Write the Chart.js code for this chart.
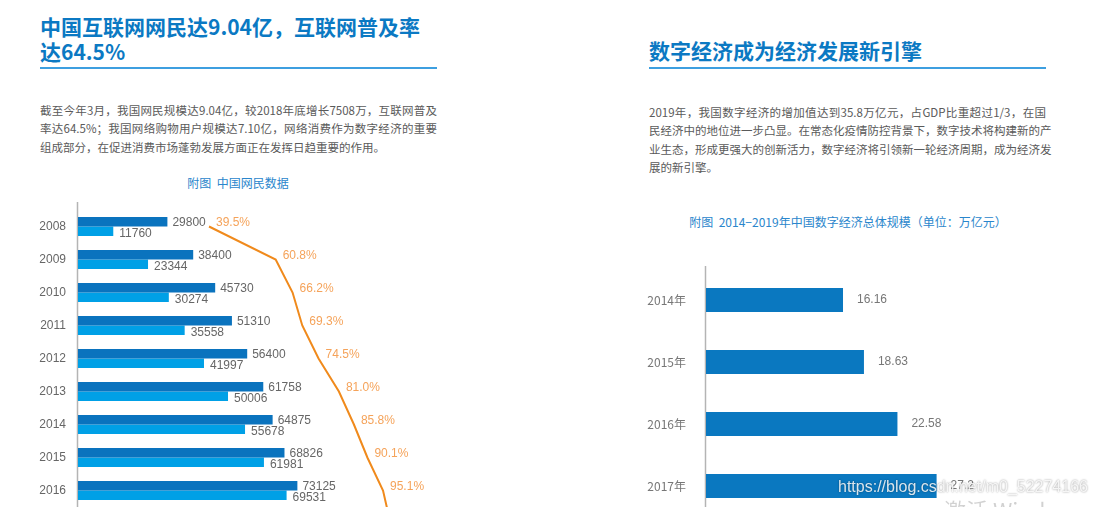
<!DOCTYPE html>
<html lang="zh-CN">
<head>
<meta charset="UTF-8">
<title>中国网民数据 / 数字经济总体规模</title>
<script src="https://cdn.jsdelivr.net/npm/chart.js@4"></script>
<style>
    html, body { margin: 0; padding: 0; }
    body {
        width: 1096px;
        height: 507px;
        overflow: hidden;
        position: relative;
        background: #fff;
        font-family: "Noto Sans CJK SC", sans-serif;
    }
    .title {
        position: absolute;
        color: #0b79c3;
        font-weight: bold;
        font-size: 21px;
        line-height: 25px;
        white-space: nowrap;
    }
    .rule { position: absolute; height: 2px; background: #3d9fe0; width: 397px; top: 67px; }
    .para {
        position: absolute;
        width: 397px;
        font-size: 11.5px;
        line-height: 18.4px;
        color: #5a5a5a;
    }
    .para div { text-align: justify; text-align-last: justify; white-space: nowrap; }
    .para div.last { text-align-last: left; }
    .cap {
        position: absolute;
        color: #2a86cc;
        font-size: 12px;
        line-height: 18px;
        white-space: nowrap;
        transform: translateX(-50%);
    }
    .box { position: absolute; }
    .mark {
        position: absolute;
        white-space: nowrap;
        font-family: "Liberation Sans", Arial, sans-serif;
    }
</style>
</head>
<body>
    <div class="title" style="left:40px; top:14px;">中国互联网网民达9.04亿，互联网普及率<br>达64.5%</div>
    <div class="rule" style="left:40px;"></div>
    <div class="para" style="left:40px; top:101px;">
        <div>截至今年3月，我国网民规模达9.04亿，较2018年底增长7508万，互联网普及</div>
        <div>率达64.5%；我国网络购物用户规模达7.10亿，网络消费作为数字经济的重要</div>
        <div class="last">组成部分，在促进消费市场蓬勃发展方面正在发挥日趋重要的作用。</div>
    </div>
    <div class="cap" style="left:238px; top:174px;">附图&nbsp;&nbsp;中国网民数据</div>

    <div class="title" style="left:649px; top:38px;">数字经济成为经济发展新引擎</div>
    <div class="rule" style="left:649px;"></div>
    <div class="para" style="left:649px; top:103px;">
        <div>2019年，我国数字经济的增加值达到35.8万亿元，占GDP比重超过1/3，在国</div>
        <div>民经济中的地位进一步凸显。在常态化疫情防控背景下，数字技术将构建新的产</div>
        <div>业生态，形成更强大的创新活力，数字经济将引领新一轮经济周期，成为经济发</div>
        <div class="last">展的新引擎。</div>
    </div>
    <div class="cap" style="left:848px; top:213px;">附图&nbsp;&nbsp;2014−2019年中国数字经济总体规模（单位：万亿元）</div>

    <div class="box" style="left:0; top:202px;"><canvas id="netChart" width="450" height="338"></canvas></div>
    <div class="box" style="left:620px; top:266px;"><canvas id="econChart" width="476" height="251"></canvas></div>

    <div class="mark" style="left:838px; top:478px; font-size:16px; color:rgba(255,255,255,0.85); text-shadow:0 0 2px rgba(0,0,0,0.45);">https://blog.csdn.net/m0_52274166</div>
    <div class="mark" style="left:944px; top:493px; font-size:22px; color:rgba(0,0,0,0.18); font-family:'Noto Sans CJK SC',sans-serif;">激活 Windows</div>

<script>
    // 中国网民数据 (2017 row sits below the visible area)
    const years = ['2008', '2009', '2010', '2011', '2012', '2013', '2014', '2015', '2016', '2017'];
    const netizens = [29800, 38400, 45730, 51310, 56400, 61758, 64875, 68826, 73125, null];
    const shoppers = [11760, 23344, 30274, 35558, 41997, 50006, 55678, 61981, 69531, null];
    const shareRate = [39.5, 60.8, 66.2, 69.3, 74.5, 81.0, 85.8, 90.1, 95.1, 97.5];

    // 数字经济总体规模 (万亿元)
    const econYears = ['2014年', '2015年', '2016年', '2017年'];
    const econScale = [16.16, 18.63, 22.58, 27.2];

    const numFont = '12px "Liberation Sans", Arial, sans-serif';

    // draws the value next to each bar / point
    const valueLabels = {
        id: 'valueLabels',
        afterDatasetsDraw(chart) {
            const ctx = chart.ctx;
            chart.data.datasets.forEach((ds, i) => {
                if (!ds.tag) return;
                const meta = chart.getDatasetMeta(i);
                meta.data.forEach((el, j) => {
                    const v = ds.data[j];
                    if (v == null) return;
                    ctx.save();
                    ctx.font = numFont;
                    ctx.fillStyle = ds.tag.color;
                    ctx.textAlign = 'left';
                    ctx.textBaseline = 'middle';
                    ctx.fillText(ds.tag.fmt(v), el.x + ds.tag.dx, el.y + ds.tag.dy);
                    ctx.restore();
                });
            });
        }
    };

    // vertical axis line, a bit taller than the plot area
    const axisLine = {
        id: 'axisLine',
        beforeDatasetsDraw(chart) {
            const ctx = chart.ctx;
            const x = Math.round(chart.chartArea.left) - 0.5;
            ctx.save();
            ctx.strokeStyle = '#b4b4b4';
            ctx.lineWidth = 1.5;
            ctx.beginPath();
            ctx.moveTo(x, 0);
            ctx.lineTo(x, chart.height);
            ctx.stroke();
            ctx.restore();
        }
    };

    // fixed axis width, and no extra label padding above/below the plot
    function fixAxis(width) {
        return function (scale) {
            scale.width = width;
            scale.paddingTop = 0;
            scale.paddingBottom = 0;
        };
    }

    const tickFont = { size: 12, family: '"Liberation Sans", Arial, "Noto Sans CJK SC", sans-serif' };

    new Chart(document.getElementById('netChart'), {
        type: 'bar',
        data: {
            labels: years,
            datasets: [
                {
                    label: '网民规模',
                    data: netizens,
                    backgroundColor: '#0a73be',
                    xAxisID: 'x',
                    barPercentage: 1,
                    categoryPercentage: 0.58,
                    tag: { color: '#666', dx: 5, dy: 1, fmt: v => String(v) }
                },
                {
                    label: '网购用户',
                    data: shoppers,
                    backgroundColor: '#00a0e6',
                    xAxisID: 'x',
                    barPercentage: 1,
                    categoryPercentage: 0.58,
                    tag: { color: '#666', dx: 6, dy: 2, fmt: v => String(v) }
                },
                {
                    type: 'line',
                    label: '比例',
                    data: shareRate,
                    indexAxis: 'y',
                    xAxisID: 'x2',
                    borderColor: '#f08a1c',
                    borderWidth: 2,
                    pointRadius: 0,
                    fill: false,
                    tension: 0,
                    tag: { color: '#f5a35a', dx: 7, dy: -3.5, fmt: v => v.toFixed(1) + '%' }
                }
            ]
        },
        options: {
            indexAxis: 'y',
            responsive: false,
            animation: false,
            layout: { padding: { top: 8, right: 0, bottom: 0, left: 0 } },
            plugins: { legend: { display: false }, tooltip: { enabled: false } },
            scales: {
                x: { display: false, min: 0, max: 124000 },
                x2: { display: false, min: -2.36, max: 116.5, position: 'top' },
                y: {
                    grid: { display: false, drawTicks: false },
                    border: { display: false },
                    ticks: { padding: 12, color: '#666', font: tickFont },
                    afterFit: fixAxis(78)
                }
            }
        },
        plugins: [axisLine, valueLabels]
    });

    new Chart(document.getElementById('econChart'), {
        type: 'bar',
        data: {
            labels: econYears,
            datasets: [{
                label: '数字经济总体规模',
                data: econScale,
                backgroundColor: '#0a78c0',
                barPercentage: 1,
                categoryPercentage: 0.387,
                tag: { color: '#777', dx: 14, dy: 0, fmt: v => String(v) }
            }]
        },
        options: {
            indexAxis: 'y',
            responsive: false,
            animation: false,
            layout: { padding: { top: 3, right: 0, bottom: 0, left: 0 } },
            plugins: { legend: { display: false }, tooltip: { enabled: false } },
            scales: {
                x: { display: false, min: 0, max: 46 },
                y: {
                    grid: { display: false, drawTicks: false },
                    border: { display: false },
                    ticks: { padding: 20, color: '#777', font: { size: 12, family: '"Noto Sans CJK SC", sans-serif' } },
                    afterFit: fixAxis(86)
                }
            }
        },
        plugins: [axisLine, valueLabels]
    });
</script>
</body>
</html>
